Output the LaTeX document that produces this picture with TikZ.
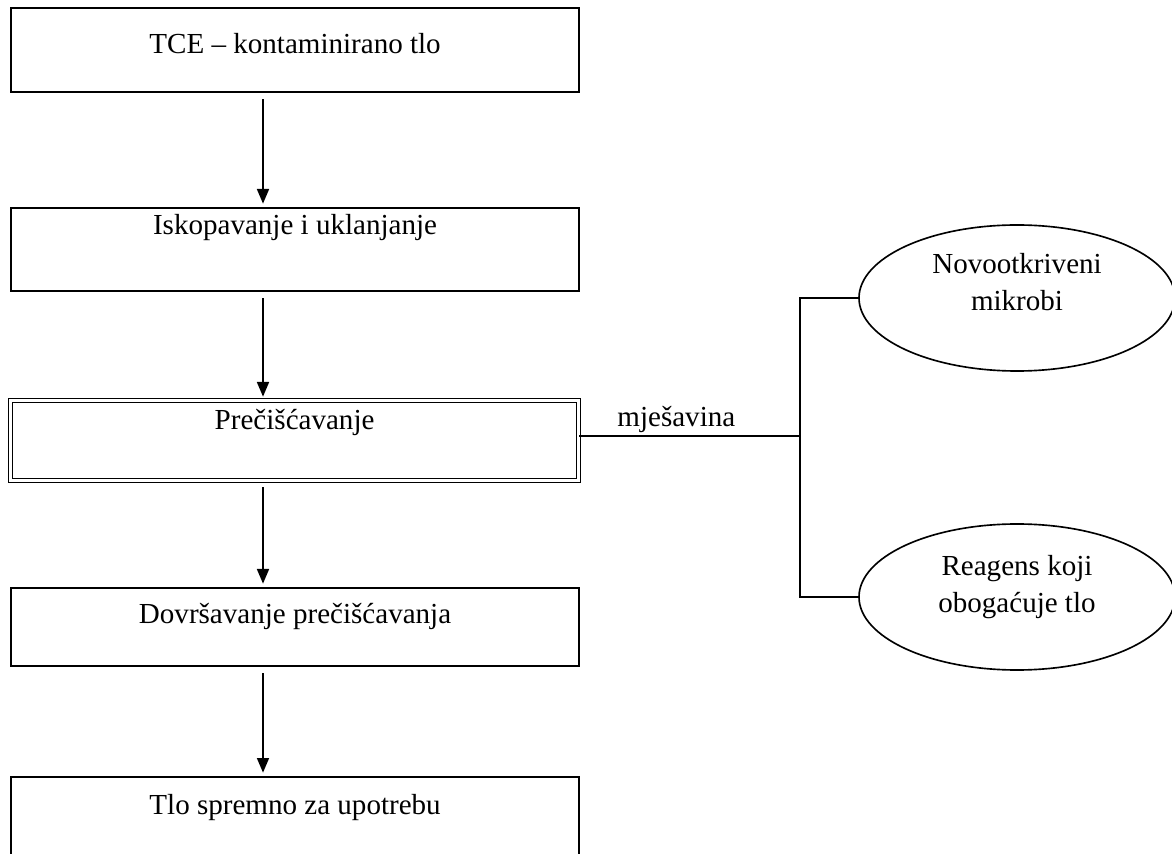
\documentclass[tikz,border=0pt]{standalone}
\usepackage{fontspec}
\setmainfont{Liberation Serif}
\usetikzlibrary{arrows.meta,shapes.geometric}

\begin{document}
\begin{tikzpicture}
  [x=0.015cm, y=-0.015cm, font=\fontsize{12.4}{15.8}\selectfont,
   stage/.style args={#1/#2}{draw=black, line width=0.9pt, anchor=north west,
     minimum width=8.52cm, inner xsep=0pt, inner ysep=0pt, text height=#1, text depth=#2},
   source/.style={ellipse, draw=black, line width=0.7pt, minimum width=4.74cm,
     minimum height=2.19cm, inner sep=0pt, align=center, text depth=#1},
   flow/.style={line width=0.7pt, -{Triangle[length=0.22cm, width=0.18cm]},
     shorten <=0.09cm, shorten >=0.05cm},
   link/.style={line width=0.7pt}]

  \useasboundingbox (0,0) rectangle (1172,854);
  \clip (0,0) rectangle (1172,854);

  % Koraci postupka
  \node[stage=0.675cm/0.585cm] (b1) at (10,7) {TCE – kontaminirano tlo};
  \node[stage=0.39cm/0.855cm] (b2) at (10,207) {Iskopavanje i uklanjanje};
  \node[stage=0.435cm/0.765cm, double, double distance=0.035cm, line width=0.5pt] (b3) at (10,400) {Prečišćavanje};
  \node[stage=0.525cm/0.645cm] (b4) at (10,587) {Dovršavanje prečišćavanja};
  \node[stage=0.555cm/0.855cm] (b5) at (10,776) {Tlo spremno za upotrebu};

  % Dodaci
  \node[source=0.48cm] (m1) at (1017,298) {Novootkriveni\\mikrobi};
  \node[source=0.4cm] (m2) at (1017,597) {Reagens koji\\obogaćuje tlo};

  % Strelice
  \coordinate (axis) at (263,0);
  \foreach \from/\to in {b1/b2, b2/b3, b3/b4, b4/b5}
    \draw[flow] (\from.south -| axis) -- (\to.north -| axis);

  % Miješanje
  \coordinate (split) at (800,436);
  \draw[link] (b3.east |- split) -- node[above=0pt, inner sep=1pt, pos=0.44] (mix) {mješavina} (split);
  \draw[link] (m1.west) -| (split) |- (m2.west);
\end{tikzpicture}
\end{document}
